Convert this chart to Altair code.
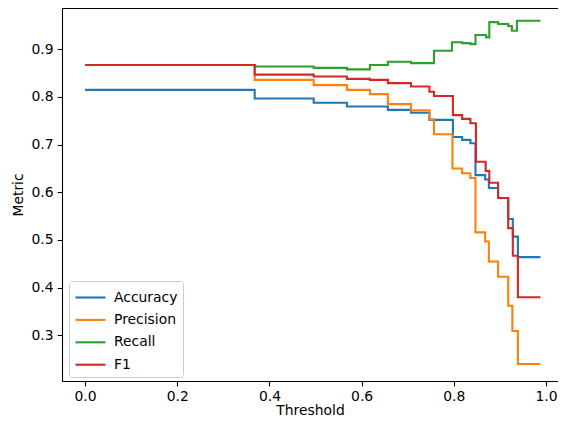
import altair as alt
import pandas as pd

series_names = ["Accuracy", "Precision", "Recall", "F1"]
series_colors = ["#1f77b4", "#ff7f0e", "#2ca02c", "#d62728"]

acc_t = [0.0, 0.368, 0.496, 0.568, 0.657, 0.707, 0.747, 0.798, 0.818, 0.836, 0.847, 0.868, 0.876, 0.896, 0.918, 0.928, 0.939, 0.988]
acc_v = [0.815, 0.797, 0.788, 0.780, 0.773, 0.767, 0.752, 0.716, 0.710, 0.703, 0.636, 0.627, 0.609, 0.588, 0.544, 0.507, 0.464, 0.464]

prec_t = [0.0, 0.368, 0.496, 0.568, 0.618, 0.657, 0.707, 0.747, 0.757, 0.797, 0.818, 0.836, 0.847, 0.868, 0.876, 0.896, 0.918, 0.927, 0.939, 0.988]
prec_v = [0.867, 0.836, 0.825, 0.815, 0.806, 0.785, 0.772, 0.753, 0.722, 0.650, 0.640, 0.630, 0.516, 0.497, 0.455, 0.423, 0.362, 0.309, 0.240, 0.240]

rec_t = [0.0, 0.368, 0.496, 0.568, 0.618, 0.657, 0.707, 0.757, 0.796, 0.818, 0.836, 0.847, 0.870, 0.877, 0.896, 0.918, 0.926, 0.937, 0.988]
rec_v = [0.867, 0.864, 0.861, 0.858, 0.867, 0.874, 0.871, 0.897, 0.915, 0.913, 0.911, 0.930, 0.925, 0.957, 0.953, 0.949, 0.939, 0.960, 0.960]

f1_t = [0.0, 0.368, 0.496, 0.568, 0.618, 0.657, 0.707, 0.747, 0.757, 0.798, 0.818, 0.836, 0.848, 0.869, 0.877, 0.896, 0.918, 0.928, 0.939, 0.988]
f1_v = [0.867, 0.847, 0.843, 0.838, 0.836, 0.829, 0.822, 0.811, 0.802, 0.762, 0.754, 0.745, 0.664, 0.645, 0.620, 0.588, 0.525, 0.467, 0.380, 0.380]

x_ticks = [0.0, 0.2, 0.4, 0.6, 0.8, 1.0]
y_ticks = [0.3, 0.4, 0.5, 0.6, 0.7, 0.8, 0.9]

rows = []
for name, ts, vs in zip(series_names, [acc_t, prec_t, rec_t, f1_t], [acc_v, prec_v, rec_v, f1_v]):
    for i, (t, v) in enumerate(zip(ts, vs)):
        rows.append({"series": name, "threshold": t, "metric": v, "idx": i})
df = pd.DataFrame(rows)

FONT = "DejaVu Sans"
FS = 13.9

x_scale = alt.Scale(domain=[-0.05, 1.026], nice=False, zero=False)
y_scale = alt.Scale(domain=[0.2042, 0.9867], nice=False, zero=False)

lines = alt.Chart(df).mark_line(interpolate="step-after", strokeWidth=2.1, clip=True).encode(
    x=alt.X("threshold:Q", scale=x_scale,
            axis=alt.Axis(title="Threshold", values=x_ticks, format=".1f", grid=False,
                          domainColor="black", domainWidth=1.1, tickColor="black", tickWidth=1.1,
                          tickSize=4.9, labelPadding=3.5, labelFontSize=FS, labelFont=FONT,
                          labelColor="black", titleFont=FONT, titleFontSize=FS, titleFontWeight="normal",
                          titleColor="black", titlePadding=0, labelFlush=False)),
    y=alt.Y("metric:Q", scale=y_scale,
            axis=alt.Axis(title="Metric", values=y_ticks, format=".1f", grid=False,
                          domainColor="black", domainWidth=1.1, tickColor="black", tickWidth=1.1,
                          tickSize=4.9, labelPadding=4, labelFontSize=FS, labelFont=FONT,
                          labelColor="black", titleFont=FONT, titleFontSize=FS, titleFontWeight="normal",
                          titleColor="black", titlePadding=6, labelFlush=False)),
    color=alt.Color("series:N", scale=alt.Scale(domain=series_names, range=series_colors),
                    legend=alt.Legend(title=None, orient="none", legendX=7, legendY=273,
                                      symbolType="M-1.5,0H1.5", symbolSize=400, symbolStrokeWidth=2.1,
                                      symbolOffset=5,
                                      labelFontSize=FS, labelFont=FONT, labelColor="black",
                                      padding=5, rowPadding=3.4, labelOffset=12,
                                      strokeColor="#cccccc", fillColor="white", cornerRadius=3)),
    order="idx:Q",
)

top_spine = alt.Chart(df).mark_line(opacity=0).encode(
    x=alt.X("threshold:Q", scale=x_scale,
            axis=alt.Axis(orient="top", title=None, labels=False, ticks=False, grid=False,
                          domainColor="black", domainWidth=1.1)),
    y=alt.Y("metric:Q", scale=y_scale),
    detail="series:N",
)

chart = alt.layer(lines, top_spine).resolve_axis(x="independent").properties(
    width=496, height=373,
    autosize=alt.AutoSizeParams(type="none"),
    padding={"left": 54, "top": 0, "right": 0, "bottom": 36},
).configure_view(stroke=None).configure(background="white")

chart.save("out.html", embed_options={"renderer": "svg", "actions": False})
